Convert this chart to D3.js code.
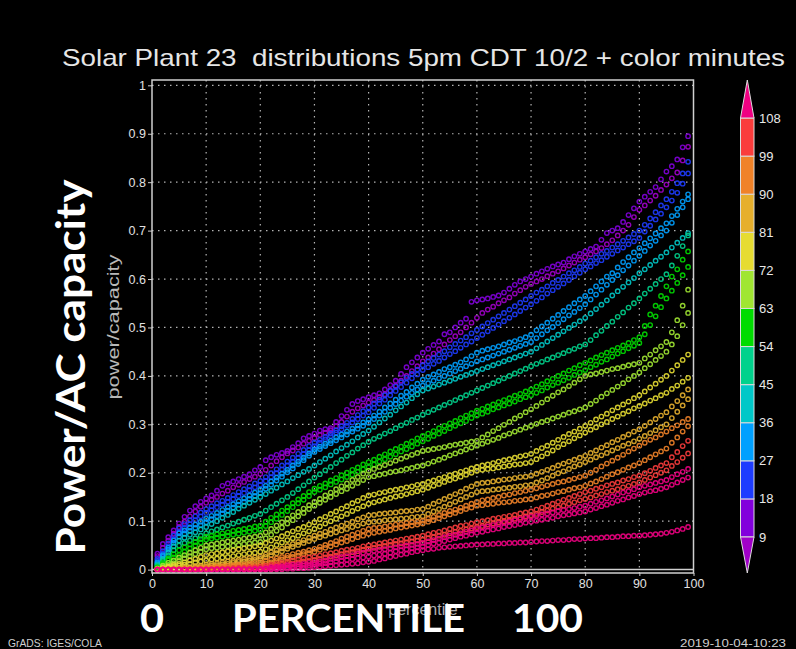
<!DOCTYPE html>
<html>
<head>
<meta charset="utf-8">
<script src="https://cdn.jsdelivr.net/npm/d3@7"></script>
<style>
body { margin: 0; background: #000; }
svg { display: block; }
</style>
</head>
<body>
<svg id="svg1" width="796" height="649"></svg>
<script>
// values are power/capacity * 1000, one per percentile 1..99
var purpleA = [33,53,67,81,95,109,122,131,140,147,
153,163,173,178,182,187,192,197,205,212,
226,232,237,241,245,253,261,271,276,281,
287,290,292,305,317,330,342,348,352,356,
360,364,372,381,390,404,418,428,438,448,
456,464,471,486,490,500,510,518,553,556,
558,560,563,566,572,580,588,595,600,605,
611,616,621,626,630,634,641,647,652,657,
662,667,681,695,700,705,718,732,746,760,
770,780,790,806,822,833,847,872,895];
var purpleB = [28,45,60,74,88,99,110,120,130,138,
144,150,157,163,170,175,181,187,192,198,
206,215,224,232,240,246,252,260,266,272,
278,283,288,296,305,316,326,333,339,345,
350,356,362,370,380,390,400,410,420,430,
438,446,455,465,474,482,490,500,510,520,
530,537,543,550,556,562,570,577,584,590,
595,600,606,611,616,622,628,634,640,645,
651,657,664,672,680,690,700,712,728,743,
752,762,772,784,795,808,820,845,873];
var blueA = [22,38,54,70,85,94,102,110,118,125,
131,137,142,148,154,160,166,172,178,183,
191,199,207,215,223,231,239,247,255,262,
268,274,281,288,296,303,311,319,327,335,
343,351,360,369,378,387,396,404,413,422,
430,437,444,451,459,466,473,480,488,495,
502,509,516,523,530,537,544,551,558,565,
572,578,585,592,598,605,612,618,625,632,
638,645,652,658,665,672,679,686,693,700,
712,725,738,752,765,780,798,818,842];
var blueB = [18,33,48,63,78,86,94,102,110,117,
123,129,134,140,146,152,158,164,170,175,
183,191,199,207,215,223,231,239,247,255,
262,269,276,283,290,297,304,311,318,325,
334,343,351,360,369,377,386,395,403,412,
418,425,431,438,445,451,458,465,471,478,
485,492,499,506,513,520,527,534,541,548,
555,562,570,577,584,591,598,606,613,620,
626,633,639,646,652,659,665,672,678,685,
698,710,723,735,748,762,778,797,818];
var lightA = [15,30,45,60,75,81,87,93,99,105,
111,117,123,129,135,141,147,153,159,165,
173,182,190,198,206,215,223,231,240,248,
254,260,266,273,279,285,291,298,304,310,
318,326,335,343,351,359,367,376,384,392,
398,403,408,414,418,423,428,434,441,448,
452,455,458,461,465,469,472,476,480,485,
494,502,510,518,526,534,542,550,558,565,
575,585,595,605,612,624,635,645,655,664,
674,684,694,705,715,730,745,760,775];
var lightB = [13,27,41,55,68,74,80,86,92,98,
104,110,116,122,128,134,140,146,152,158,
167,175,184,192,201,209,218,226,235,243,
249,255,261,267,273,279,285,291,297,303,
311,318,326,334,342,349,357,365,372,380,
385,390,395,400,405,410,415,420,425,430,
434,438,442,446,450,454,458,462,466,470,
478,486,494,501,509,517,525,532,540,548,
558,568,578,588,598,608,618,628,638,648,
658,669,679,690,700,716,732,748,765];
var cyanA = [10,22,35,48,60,66,72,77,83,88,
94,100,107,113,119,126,132,138,144,150,
156,163,169,176,182,189,195,202,208,215,
222,229,236,244,251,258,265,273,280,287,
295,304,312,320,329,337,345,354,362,370,
374,378,382,386,390,394,398,402,406,410,
414,418,422,426,430,434,438,442,446,450,
457,464,471,478,485,492,499,506,513,520,
529,538,547,556,566,575,584,593,602,612,
620,629,638,646,655,665,675,685,695];
var tealA = [8,18,29,40,50,55,60,65,70,75,
79,83,87,91,95,99,103,107,111,115,
122,129,136,143,150,158,166,174,182,190,
197,205,212,220,227,235,242,250,257,264,
270,275,281,286,292,298,303,309,314,320,
325,330,335,340,345,350,355,360,365,370,
375,380,385,390,395,400,405,410,415,420,
425,429,434,438,443,447,452,456,461,465,
474,484,493,503,512,522,531,541,550,560,
570,580,590,600,610,628,648,668,690];
var greenA = [5,14,23,32,40,46,52,57,63,68,
70,73,75,77,80,82,84,86,89,91,
99,107,114,122,129,137,145,152,160,167,
173,178,184,189,195,200,206,211,217,222,
227,233,238,244,249,254,260,265,271,276,
281,286,292,297,302,307,313,318,323,328,
332,337,341,346,350,354,359,363,368,372,
378,383,389,394,400,405,411,416,422,427,
432,438,443,448,453,458,463,468,474,480,
503,527,545,565,585,605,620,640,657];
var greenB = [3,11,19,25,30,37,44,50,56,62,
64,66,68,70,72,74,76,78,80,82,
90,98,105,113,121,129,137,144,152,160,
165,170,176,181,186,191,196,202,207,212,
217,223,228,233,238,244,249,254,260,265,
270,276,281,286,292,297,302,307,313,318,
322,326,331,335,339,343,347,352,356,360,
365,370,376,381,386,391,396,402,407,412,
418,423,429,434,440,446,451,457,462,468,
486,505,523,542,560,576,592,608,625];
var oliveA = [2,8,14,19,25,30,35,40,45,50,
52,54,56,58,60,62,64,66,68,70,
77,84,91,98,105,112,119,126,133,140,
146,153,159,166,172,178,185,191,198,204,
208,212,216,220,225,229,233,237,241,245,
247,249,251,253,256,258,260,262,264,266,
273,279,286,292,299,305,312,318,325,331,
338,345,352,359,366,372,379,386,393,400,
403,405,408,411,414,416,419,422,424,427,
436,444,453,461,470,490,515,545,578];
var oliveB = [1,5,9,13,18,23,28,32,37,42,
44,45,47,48,50,51,53,54,56,57,
65,72,80,87,95,102,110,117,125,132,
138,144,150,156,162,167,173,179,185,191,
193,196,198,201,203,205,208,210,213,215,
219,223,227,231,236,240,244,248,252,256,
260,264,268,272,277,281,285,289,293,297,
301,305,308,312,316,320,324,327,331,335,
342,349,357,364,371,378,385,393,400,407,
416,424,433,441,450,465,482,505,530];
var yellowA = [1,3,6,9,12,15,19,22,26,30,
32,34,36,38,40,42,44,46,48,50,
55,60,64,69,74,79,84,88,93,98,
104,109,115,120,126,131,137,142,148,153,
155,158,160,163,165,167,170,172,175,177,
181,184,188,191,195,198,202,205,209,212,
215,217,220,223,226,228,231,234,236,239,
245,251,256,262,268,274,280,285,291,297,
303,310,316,322,329,335,341,347,354,360,
368,376,384,392,400,411,422,433,444];
var yellowB = [0,2,4,6,8,10,12,15,17,19,
21,23,25,26,28,30,32,34,35,37,
42,46,51,56,61,65,70,75,79,84,
89,95,100,105,110,115,121,126,131,136,
139,142,145,148,151,153,156,159,162,165,
169,173,177,181,185,188,192,196,200,204,
206,208,209,211,213,215,217,218,220,222,
228,234,240,246,253,259,265,271,277,283,
289,294,300,305,311,316,322,327,333,338,
343,349,354,360,365,373,380,388,396];
var goldA = [0,1,1,2,3,4,5,7,8,10,
12,13,15,17,18,20,22,24,25,27,
31,36,40,44,49,53,57,61,66,70,
74,78,83,87,91,95,99,104,108,112,
113,115,116,117,118,120,121,122,124,125,
130,136,141,146,151,156,161,167,172,177,
179,180,182,184,186,187,189,191,192,194,
198,202,206,210,215,219,223,227,231,235,
241,246,252,257,263,268,274,279,285,290,
297,304,311,318,325,337,348,360,372];
var goldB = [0,0,0,1,1,2,3,4,5,6,
8,9,11,12,14,16,17,19,20,22,
26,30,34,38,43,47,51,55,59,63,
67,70,74,77,81,84,88,91,95,98,
99,100,102,103,104,105,106,108,109,110,
115,120,125,130,135,140,145,150,155,160,
162,163,165,166,168,169,171,172,174,175,
180,184,189,194,199,203,208,213,217,222,
227,232,236,241,246,251,256,260,265,270,
276,282,288,294,300,313,326,339,352];
var orangeA = [0,0,0,0,0,1,1,2,3,4,
5,6,7,8,9,10,11,13,14,15,
18,21,23,26,29,32,35,37,40,43,
47,51,55,59,64,68,72,76,80,84,
86,87,89,91,93,94,96,98,99,101,
105,109,113,117,121,124,128,132,136,140,
143,145,148,150,153,155,158,160,163,165,
168,171,174,177,180,182,185,188,191,194,
200,206,213,219,225,231,237,244,250,256,
262,268,273,279,285,292,298,305,311];
var orangeB = [0,0,0,0,0,0,1,1,2,2,
3,4,4,5,6,7,7,8,9,10,
13,15,18,21,24,26,29,32,34,37,
41,45,48,52,56,59,63,67,70,74,
76,78,80,82,85,87,89,91,93,95,
99,102,106,110,114,117,121,125,128,132,
133,135,136,138,139,140,142,143,145,146,
149,152,154,157,160,162,165,168,170,173,
178,182,187,192,197,201,206,211,215,220,
226,232,238,244,250,262,273,285,296];
var redA = [0,0,0,0,0,0,0,0,1,1,
1,2,2,3,3,4,4,5,5,6,
8,10,12,14,16,19,21,23,25,27,
29,32,34,36,39,41,43,45,48,50,
52,54,56,58,60,62,64,66,68,70,
73,76,78,81,84,87,90,92,95,98,
100,102,105,107,109,111,113,116,118,120,
124,128,132,136,140,144,148,152,156,160,
163,167,170,174,177,180,184,187,191,194,
199,204,210,215,220,232,243,255,266];
var redB = [0,0,0,0,0,0,0,0,0,0,
0,1,1,1,1,2,2,2,3,3,
5,7,8,10,12,13,15,17,18,20,
22,25,27,29,32,34,36,38,41,43,
45,47,49,51,53,54,56,58,60,62,
65,67,70,72,75,78,80,83,85,88,
90,93,95,98,100,102,105,107,110,112,
115,119,122,126,129,132,136,139,143,146,
149,153,156,160,163,166,170,173,177,180,
185,190,195,200,205,214,222,231,240];
var pinkA = [0,0,0,0,0,0,0,0,0,0,
0,0,0,0,0,1,1,1,2,2,
3,5,6,7,9,10,11,12,14,15,
17,19,22,24,26,28,30,33,35,37,
39,41,42,44,46,48,50,51,53,55,
58,61,64,67,70,72,75,78,81,84,
87,89,92,94,97,99,102,104,107,109,
111,114,116,118,121,123,125,127,130,132,
136,140,143,147,151,155,159,162,166,170,
173,176,179,182,185,191,197,202,208];
var pinkB = [0,0,0,0,0,0,0,0,0,0,
0,0,0,0,0,0,0,0,0,0,
1,2,3,4,5,6,7,8,9,10,
12,13,15,17,19,20,22,24,25,27,
29,31,33,35,38,40,42,44,46,48,
51,54,56,59,62,65,68,70,73,76,
78,81,83,85,88,90,92,94,97,99,
101,103,105,107,110,112,114,116,118,120,
124,127,131,134,138,142,145,149,152,156,
159,162,164,167,170,175,180,185,190];
var pinkC = [0,0,0,0,0,0,0,0,0,0,
0,0,0,0,0,0,0,0,0,0,
0,0,1,1,2,2,3,3,4,5,
6,7,8,9,10,11,12,13,15,16,
18,21,23,26,28,31,33,36,38,40,
42,43,45,46,47,48,49,50,51,52,
52,53,53,54,54,55,55,56,56,57,
58,59,59,60,61,61,62,63,63,64,
65,65,66,67,67,68,69,69,70,70,
71,72,73,74,76,78,81,84,88];

var curveValues = [purpleA, purpleB, blueA, blueB, lightA, lightB, cyanA, tealA,
    greenA, greenB, oliveA, oliveB, yellowA, yellowB, goldA, goldB,
    orangeA, orangeB, redA, redB, pinkA, pinkB, pinkC];
var curveMinutes = [12, 5, 20, 25, 29, 34, 40, 48, 57, 61, 65, 70, 74, 79, 83, 88, 92, 97, 101, 106, 110, 115, 120];

var percentiles = d3.range(1, 100);
var xTicks = [0, 10, 20, 30, 40, 50, 60, 70, 80, 90, 100];
var yTicks = [0, 0.1, 0.2, 0.3, 0.4, 0.5, 0.6, 0.7, 0.8, 0.9, 1];
var yLabels = ['0', '0.1', '0.2', '0.3', '0.4', '0.5', '0.6', '0.7', '0.8', '0.9', '1'];
var levels = [9, 18, 27, 36, 45, 54, 63, 72, 81, 90, 99, 108];
// grads rainbow: 9 14 4 11 5 13 3 10 7 12 8 2 6
var levelColors = ['#a000c8', '#8200dc', '#1e3cff', '#00a0ff', '#00c8c8', '#00d28c',
    '#00dc00', '#a0e632', '#e6dc32', '#e6af2d', '#f08228', '#fa3c3c', '#f00082'];

var svg = d3.select('#svg1');
svg.append('rect').attr('width', 796).attr('height', 649).attr('fill', '#000');

var x = d3.scaleLinear().domain([0, 100]).range([152, 693.5]);
var y = d3.scaleLinear().domain([-0.007, 1.011]).range([573, 80]);
var color = d3.scaleThreshold().domain(levels).range(levelColors);
var cb = d3.scaleLinear().domain([9, 108]).range([537, 118]);

var labelFont = '"Liberation Sans", Arial, sans-serif';
var bigFont = 'Lato, "Open Sans", sans-serif';

// dotted grid
svg.append('g').selectAll('line').data(xTicks.slice(1, -1)).enter().append('line')
    .attr('x1', function (d) { return x(d); })
    .attr('x2', function (d) { return x(d); })
    .attr('y1', y.range()[1])
    .attr('y2', y.range()[0])
    .attr('stroke', '#b4b4b4').attr('stroke-width', 1.2)
    .attr('stroke-dasharray', '1.5,4.5');
svg.append('g').selectAll('line').data(yTicks.slice(1)).enter().append('line')
    .attr('x1', x(0)).attr('x2', x(100))
    .attr('y1', function (d) { return y(d); })
    .attr('y2', function (d) { return y(d); })
    .attr('stroke', '#b4b4b4').attr('stroke-width', 1.2)
    .attr('stroke-dasharray', '1.5,4.5');

// zero line and frame
svg.append('line').attr('x1', x(0)).attr('x2', x(100))
    .attr('y1', y(0)).attr('y2', y(0))
    .attr('stroke', '#d0d0d0').attr('stroke-width', 1.5);

// points, one ring per percentile
var pts = svg.append('g');
curveValues.forEach(function (vals, ci) {
    pts.append('g').selectAll('circle').data(vals).enter().append('circle')
        .attr('cx', function (d, i) { return x(percentiles[i]); })
        .attr('cy', function (d) { return y(d / 1000); })
        .attr('r', 2.2)
        .attr('fill', 'none')
        .attr('stroke', color(curveMinutes[ci]))
        .attr('stroke-opacity', 0.9)
        .attr('stroke-width', 1.4);
});

svg.append('rect')
    .attr('x', x(0)).attr('y', y.range()[1])
    .attr('width', x(100) - x(0)).attr('height', y.range()[0] - y.range()[1])
    .attr('fill', 'none').attr('stroke', '#d0d0d0').attr('stroke-width', 1.5);

// axes
var yAxis = svg.append('g').attr('transform', 'translate(' + x(0) + ',0)')
    .call(d3.axisLeft(y).tickValues(yTicks).tickSize(4)
        .tickFormat(function (d, i) { return yLabels[i]; }));
var xAxis = svg.append('g').attr('transform', 'translate(0,' + y.range()[0] + ')')
    .call(d3.axisBottom(x).tickValues(xTicks).tickSize(3));
[xAxis, yAxis].forEach(function (a) {
    a.select('.domain').remove();
    a.selectAll('line').attr('stroke', '#d0d0d0');
    a.selectAll('text').attr('fill', '#e0e0e0').attr('font-size', 12.5)
        .attr('font-family', labelFont);
});
yAxis.selectAll('text').attr('x', -6);
xAxis.selectAll('text').attr('y', 6);

// colour bar
var cbLeft = 740.5, cbRight = 754, cbMid = 747.3;
var cbg = svg.append('g');
cbg.selectAll('rect').data(levels.slice(0, -1)).enter().append('rect')
    .attr('x', cbLeft)
    .attr('y', function (d, i) { return cb(levels[i + 1]); })
    .attr('width', cbRight - cbLeft)
    .attr('height', function (d, i) { return cb(levels[i]) - cb(levels[i + 1]); })
    .attr('fill', function (d, i) { return levelColors[i + 1]; })
    .attr('stroke', '#dcdcdc').attr('stroke-width', 1);
cbg.append('path')
    .attr('d', 'M' + cbLeft + ',' + cb(9) + 'L' + cbRight + ',' + cb(9) + 'L' + cbMid + ',573Z')
    .attr('fill', levelColors[0]).attr('stroke', '#dcdcdc').attr('stroke-width', 1);
cbg.append('path')
    .attr('d', 'M' + cbLeft + ',' + cb(108) + 'L' + cbRight + ',' + cb(108) + 'L' + cbMid + ',80Z')
    .attr('fill', levelColors[12]).attr('stroke', '#dcdcdc').attr('stroke-width', 1);
cbg.selectAll('text').data(levels).enter().append('text')
    .attr('x', 759)
    .attr('y', function (d) { return cb(d); })
    .attr('dy', '0.35em')
    .attr('fill', '#e8e8e8').attr('font-size', 13).attr('font-family', labelFont)
    .text(function (d) { return d; });

// titles and labels
svg.append('text')
    .attr('x', 423.5).attr('y', 66)
    .attr('text-anchor', 'middle')
    .style('white-space', 'pre')
    .attr('fill', '#e6e6e6').attr('font-size', 24).attr('font-family', labelFont)
    .attr('textLength', 723).attr('lengthAdjust', 'spacingAndGlyphs')
    .text('Solar Plant 23  distributions 5pm CDT 10/2 + color minutes');

svg.append('text')
    .attr('transform', 'translate(119,327) rotate(-90)')
    .attr('text-anchor', 'middle')
    .attr('fill', '#b8b8b8').attr('font-size', 17).attr('font-family', labelFont)
    .attr('textLength', 145).attr('lengthAdjust', 'spacingAndGlyphs')
    .text('power/capacity');

svg.append('text')
    .attr('transform', 'translate(85,367) rotate(-90)')
    .attr('text-anchor', 'middle')
    .attr('fill', '#fff').attr('font-size', 40).attr('font-weight', 'bold')
    .attr('font-family', bigFont)
    .attr('textLength', 375).attr('lengthAdjust', 'spacingAndGlyphs')
    .text('Power/AC capacity');

// small grads x label sits behind the big PERCENTILE, as in the original
svg.append('text')
    .attr('x', 423).attr('y', 615)
    .attr('text-anchor', 'middle')
    .attr('fill', '#b0b0b0').attr('font-size', 16).attr('font-family', labelFont)
    .text('percentile');

var bottomWords = ['0', 'PERCENTILE', '100'];
var bottomX = [140, 232, 512];
var bottomLen = [24, 233, 71];
svg.append('g').selectAll('text').data(bottomWords).enter().append('text')
    .attr('x', function (d, i) { return bottomX[i]; })
    .attr('y', 632)
    .attr('fill', '#fff').attr('font-size', 38).attr('font-weight', 'bold')
    .attr('font-family', bigFont)
    .attr('textLength', function (d, i) { return bottomLen[i]; })
    .attr('lengthAdjust', 'spacingAndGlyphs')
    .text(function (d) { return d; });

svg.append('text')
    .attr('x', 8).attr('y', 647)
    .attr('fill', '#cfcfcf').attr('font-size', 11).attr('font-family', labelFont)
    .attr('textLength', 94).attr('lengthAdjust', 'spacingAndGlyphs')
    .text('GrADS: IGES/COLA');
svg.append('text')
    .attr('x', 786).attr('y', 647)
    .attr('text-anchor', 'end')
    .attr('fill', '#cfcfcf').attr('font-size', 11).attr('font-family', labelFont)
    .attr('textLength', 106).attr('lengthAdjust', 'spacingAndGlyphs')
    .text('2019-10-04-10:23');
</script>
</body>
</html>
